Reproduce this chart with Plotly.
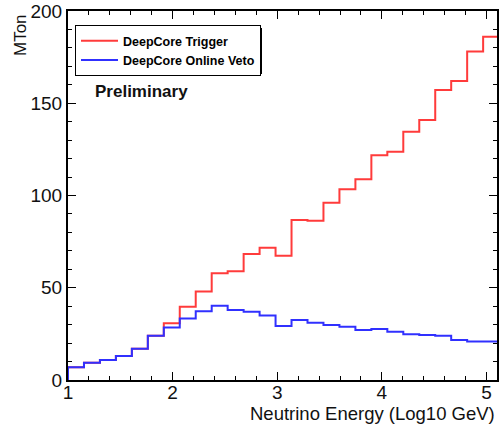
import numpy as np
import plotly.graph_objects as go

# log10(E/GeV) binning, 27 bins
x_min, x_max, n_bins = 1.0, 5.12, 27
edges = np.linspace(x_min, x_max, n_bins + 1)

trigger = [6.9, 9.4, 10.8, 13.0, 17.0, 24.0, 30.7, 39.7, 47.9, 57.8, 59.0, 68.3, 71.7, 67.4,
           86.7, 86.3, 96.1, 103.4, 108.8, 121.8, 123.7, 134.6, 140.9, 157.2, 162.0, 178.0, 186.0]
online_veto = [6.9, 9.4, 10.8, 13.0, 17.0, 24.0, 28.5, 33.4, 37.2, 40.3, 38.0, 37.0, 34.9, 29.3,
               32.5, 31.0, 29.8, 28.9, 27.1, 27.6, 26.2, 24.8, 24.4, 24.0, 21.7, 20.8, 20.8]

names = ['DeepCore Trigger', 'DeepCore Online Veto']
colors = ['#ff3b3b', '#3030ff']

W, H = 502, 424
L, R, T, B = 68, 5, 11, 44
pw, ph = W - L - R, H - T - B


def px(x):
    return (x - L) / pw


def py(y):
    return (H - B - y) / ph


fig = go.Figure()
for vals, name, col in zip([trigger, online_veto], names, colors):
    # ROOT-style histogram outline: rises from zero at the first edge
    xs = [edges[0]] + list(edges)
    ys = [0] + list(vals) + [vals[-1]]
    fig.add_trace(go.Scatter(x=xs, y=ys, mode='lines', name=name,
                             line=dict(color=col, width=2, shape='hv'),
                             hoverinfo='skip'))

fig.update_layout(
    width=W, height=H,
    margin=dict(l=L, r=R, t=T, b=B),
    paper_bgcolor='white', plot_bgcolor='white',
    font=dict(family='Liberation Sans, Arial, sans-serif', color='black'),
    showlegend=True,
    legend=dict(x=px(75), y=py(25), xanchor='left', yanchor='top',
                bgcolor='white', bordercolor='black', borderwidth=1,
                itemwidth=37,
                font=dict(size=12.5, family='Liberation Sans, Arial', weight='bold'),
                tracegroupgap=0),
)

axis_common = dict(showline=True, linecolor='black', linewidth=2, mirror='allticks',
                   ticks='inside', ticklen=8, tickwidth=1, tickcolor='black',
                   showgrid=False, zeroline=False, automargin=False,
                   tickfont=dict(size=19, family='Liberation Sans, Arial', color='#111'))

fig.update_xaxes(range=[1, 5.1], tickvals=[1, 2, 3, 4, 5], ticklabelstandoff=-6,
                 minor=dict(dtick=0.2, ticks='inside', ticklen=4, tickcolor='black', showgrid=False),
                 **axis_common)
fig.update_yaxes(range=[0, 200], tickvals=[0, 50, 100, 150, 200],
                 minor=dict(dtick=10, ticks='inside', ticklen=4, tickcolor='black', showgrid=False),
                 **axis_common)

# legend drop shadow
fig.add_shape(type='rect', xref='paper', yref='paper',
              x0=px(78), x1=px(262), y0=py(28), y1=py(74),
              fillcolor='black', line=dict(width=0), layer='above')

fig.add_annotation(text='Preliminary', xref='paper', yref='paper',
                   x=px(93), y=py(92), xanchor='left', yanchor='middle', showarrow=False,
                   font=dict(size=17, family='Liberation Sans, Arial', weight='bold', color='#111'))
fig.add_annotation(text='Neutrino Energy (Log10 GeV)', xref='paper', yref='paper',
                   x=px(497), y=py(413.5), xanchor='right', yanchor='middle', showarrow=False,
                   font=dict(size=18.5, family='Liberation Sans, Arial', color='#111'))
fig.add_annotation(text='MTon', xref='paper', yref='paper', textangle=-90,
                   x=px(20), y=py(12), xanchor='center', yanchor='top', showarrow=False,
                   font=dict(size=17, family='Liberation Sans, Arial', color='#111'))

fig.write_html('out.html', config={'displayModeBar': False},
               post_script="document.body.style.margin='0';")
